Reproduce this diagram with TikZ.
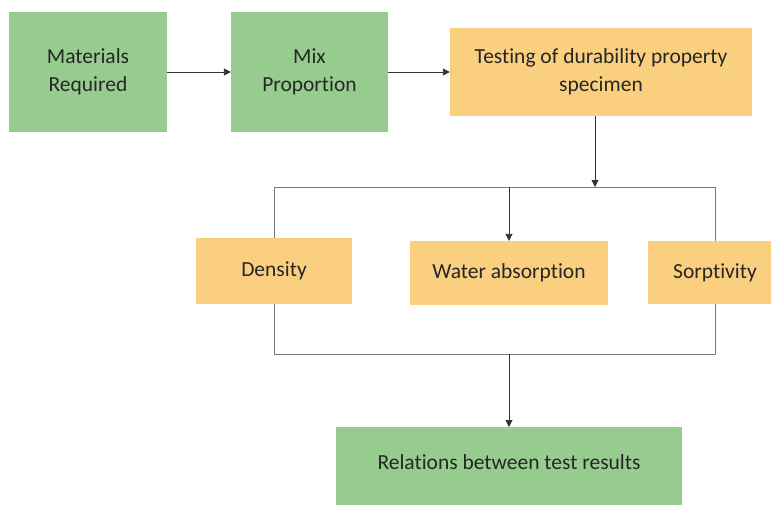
\documentclass[tikz,border=0pt]{standalone}
\usepackage{fontspec}
\setmainfont{Carlito}[Ligatures=NoCommon]
\usetikzlibrary{arrows.meta}
\definecolor{boxgreen}{RGB}{151,204,143}
\definecolor{boxorange}{RGB}{250,207,128}
\definecolor{framegray}{RGB}{120,120,120}
\begin{document}
\begin{tikzpicture}[x=1pt,y=-1pt,>={Triangle[length=7pt,width=7pt]},
  greenbox/.style={fill=boxgreen,inner sep=0pt,align=center,text=black!85,font=\fontsize{21.5}{28.5}\selectfont},
  orangebox/.style={fill=boxorange,inner sep=0pt,align=center,text=black!85,font=\fontsize{21.5}{28.5}\selectfont},
  link/.style={draw=black!80,line width=0.9pt},
  frame/.style={draw=framegray,line width=1pt}]
  \useasboundingbox (0,0) rectangle (771,504);
  % top row
  \node[greenbox,minimum width=158,minimum height=120] (mat) at (88,72) {Materials\\Required};
  \node[greenbox,minimum width=157,minimum height=120] (mix) at (309.5,72) {Mix\\Proportion};
  \node[orangebox,minimum width=302,minimum height=88] (test) at (601,72) {Testing of durability property\\specimen};
  % middle row
  \node[orangebox,minimum width=156,minimum height=66] (dens) at (274,271) {Density};
  \node[orangebox,minimum width=198,minimum height=64] (water) at (509,273) {Water absorption};
  \node[orangebox,minimum width=134,minimum height=63] (sorp) at (715,272.5) {Sorptivity};
  % bottom box, runs off the page
  \node[greenbox,anchor=north,minimum width=346,text height=42,text depth=50] (rel) at (509,427) {Relations between test results};
  \coordinate (split) at (595,187);
  \coordinate (top) at (509,187);
  \coordinate (bot) at (509,354);
  \draw[link,->] (mat) -- (mix);
  \draw[link,->] (mix) -- (test);
  \draw[link,->] (test.south -| split) -- (split);
  \draw[frame] (dens.north) -- (dens.north |- top) -- (sorp.north |- top) -- (sorp.north);
  \draw[frame] (dens.south) -- (dens.south |- bot) -- (sorp.south |- bot) -- (sorp.south);
  \draw[link,->] (top) -- (water.north);
  \draw[link,->] (bot) -- (rel.north);
\end{tikzpicture}
\end{document}
